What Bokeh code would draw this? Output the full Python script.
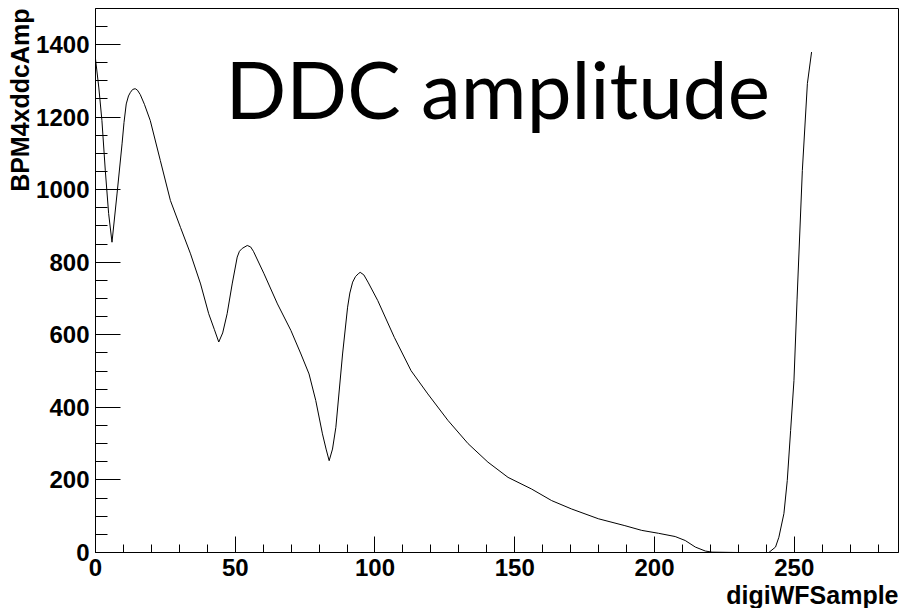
from bokeh.plotting import figure
from bokeh.models import Range1d, SingleIntervalTicker, Title, Label
from bokeh.embed import file_html
from bokeh.resources import INLINE

# Waveform samples
sample = [0, 1.2, 2.3, 3.5, 4.7, 5.9, 7.7, 9.5, 10.2, 11, 11.8, 12.5, 13.3, 14.2,
          15, 16, 17.5, 19.6, 23.2, 26.8, 30.4, 34, 37.6, 40.5, 42.5, 44.1, 45.5,
          47.1, 48.9, 50.7, 51.5, 52.5, 54.3, 55.5, 56.5, 60.3, 65.1, 69.9, 73.5,
          76.4, 78.8, 81.2, 82.5, 83.6, 84.8, 86, 88.4, 90.2, 91, 92, 93, 94, 94.7,
          96, 97.5, 101, 106.9, 112.9, 118.9, 126.1, 133.3, 140.4, 147.6, 156,
          163.2, 170.3, 179.9, 189.4, 195.4, 201.4, 207.4, 211, 214.6, 218.2,
          220.6, 230, 240.9, 243.3, 244.5, 246.3, 247.5, 248.7, 249.9, 251, 252.9,
          254.7, 256.2]
ddc_amp = [1360, 1280, 1190, 1053, 934, 855, 988, 1126, 1185, 1236, 1258, 1268,
           1276, 1278, 1274, 1262, 1235, 1190, 1080, 970, 896, 823, 740, 658, 615,
           580, 605, 658, 740, 814, 830, 838, 846, 842, 830, 768, 685, 612, 547,
           492, 419, 327, 285, 253, 285, 345, 547, 676, 715, 745, 760, 768, 772,
           765, 745, 694, 593, 501, 437, 364, 300, 249, 207, 175, 143, 120, 93,
           74, 61, 53, 44, 33, 15, 4, 1, 0, 0, 15, 42, 107, 198, 336, 474, 696,
           1053, 1292, 1379]

title_text = "DDC amplitude"
x_title = "digiWFSample"
y_title = "BPM4xddcAmp"

p = figure(width=908, height=608, output_backend="svg", toolbar_location=None,
           x_range=Range1d(0, 287.3), y_range=Range1d(0, 1499),
           min_border_left=95, min_border_right=10, min_border_top=8,
           min_border_bottom=56)
p.background_fill_color = "white"
p.border_fill_color = "white"
p.outline_line_color = "black"
p.outline_line_width = 1
p.xgrid.visible = False
p.ygrid.visible = False

p.line(sample, ddc_amp, line_color="black", line_width=1)

p.xaxis.ticker = SingleIntervalTicker(interval=50, num_minor_ticks=5)
p.yaxis.ticker = SingleIntervalTicker(interval=200, num_minor_ticks=4)
for ax in (p.xaxis[0], p.yaxis[0]):
    ax.axis_line_color = "black"
    ax.major_tick_line_color = "black"
    ax.minor_tick_line_color = "black"
    ax.major_tick_out = 0
    ax.minor_tick_out = 0
    ax.major_label_text_font = "Liberation Sans"
    ax.major_label_text_font_style = "bold"
    ax.major_label_text_font_size = "24px"
    ax.major_label_text_color = "black"
    ax.major_label_standoff = 6
p.xaxis.major_tick_in = 16
p.xaxis.minor_tick_in = 8
p.yaxis.major_tick_in = 25
p.yaxis.minor_tick_in = 12

p.add_layout(Title(text=x_title, align="right", text_font="Liberation Sans",
                   text_font_style="bold", text_font_size="25px",
                   text_color="black", standoff=0), "below")
p.add_layout(Title(text=y_title, align="right", text_font="Liberation Sans",
                   text_font_style="bold", text_font_size="25px",
                   text_color="black", standoff=0), "left")

p.add_layout(Label(x=46.5, y=1281, text=title_text, text_font="Lato",
                   text_font_size="80px", text_color="black",
                   text_baseline="alphabetic"))

open("out.html", "w").write(file_html(p, INLINE))
